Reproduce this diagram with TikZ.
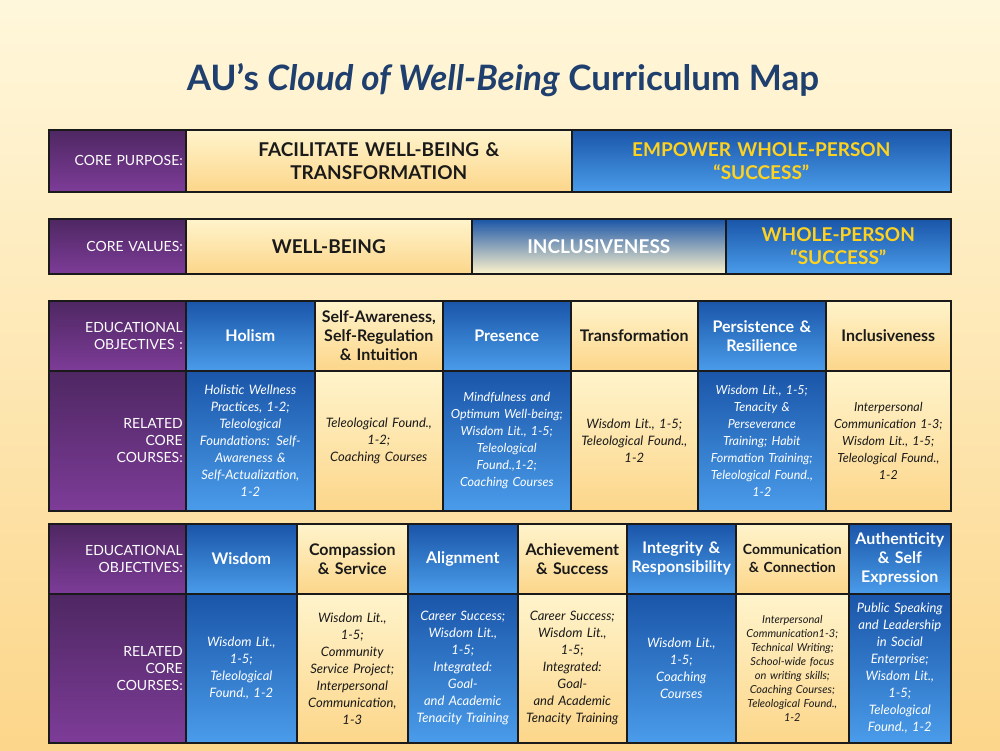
\documentclass[tikz,border=0pt]{standalone}
\usepackage{fontspec}
\setmainfont{Lato}
\usetikzlibrary{positioning}
\definecolor{ttl}{HTML}{1F3F6E}
\definecolor{bdark}{HTML}{1A55A8}
\definecolor{blight}{HTML}{4A9CEA}
\definecolor{cTop}{HTML}{FFF4CC}
\definecolor{cBot}{HTML}{FCD68A}
\definecolor{pTop}{HTML}{4E2762}
\definecolor{pBot}{HTML}{7D3C98}
\definecolor{gold}{HTML}{FFD21F}
\definecolor{dk}{HTML}{1A1A1A}
\tikzset{
 cellb/.style={draw=dk,line width=1.6pt,anchor=north west,inner sep=2pt,align=center},
 blue/.style={cellb,top color=bdark,bottom color=blight,text=white},
 cream/.style={cellb,top color=cTop,bottom color=cBot,text=dk},
 purp/.style={cellb,top color=pTop,bottom color=pBot,text=white,align=right,font=\fontsize{14}{17}\selectfont},
 hd/.style={font=\bfseries\fontsize{16}{19}\selectfont},
 bd/.style={font=\itshape\fontsize{13}{17}\selectfont},
}
\newcommand\cellat[7]{\node[#2,minimum width=#4pt-#3pt,minimum height=#6pt-#5pt,text width=#4pt-#3pt-6pt] (#1) at (#3pt,-#5pt) {#7};}
\begin{document}
\begin{tikzpicture}[x=1pt,y=1pt]
\useasboundingbox[top color=cTop!70!white,bottom color=cBot] (0,0) rectangle (1000,-750);
\node[font=\bfseries\fontsize{35}{40}\selectfont,text=ttl] (title) at (503,-80) {AU’s \textit{Cloud of Well-Being} Curriculum Map};
% table 1
\cellat{p1}{purp}{48}{185}{129}{191}{CORE PURPOSE:}
\cellat{a1}{cream,font=\bfseries\fontsize{19}{23}\selectfont}{185}{571}{129}{191}{FACILITATE WELL-BEING \&\\TRANSFORMATION}
\cellat{b1}{blue,text=gold,font=\bfseries\fontsize{19}{23}\selectfont}{571}{950}{129}{191}{EMPOWER WHOLE-PERSON\\“SUCCESS”}
% table 2
\cellat{p2}{purp}{48}{185}{218}{273}{CORE VALUES:}
\cellat{a2}{cream,font=\bfseries\fontsize{19}{23}\selectfont}{185}{471}{218}{273}{WELL-BEING}
\cellat{b2}{cellb,top color=bdark,bottom color=cTop,text=white,font=\bfseries\fontsize{19}{23}\selectfont}{471}{725}{218}{273}{INCLUSIVENESS}
\cellat{c2}{blue,text=gold,font=\bfseries\fontsize{19}{23}\selectfont}{725}{950}{218}{273}{WHOLE-PERSON\\“SUCCESS”}
% table 3
\cellat{p3}{purp}{48}{185}{300}{370}{EDUCATIONAL\\OBJECTIVES :}
\cellat{q3}{purp}{48}{185}{370}{510}{RELATED\\CORE\\COURSES:}
\cellat{h31}{blue,hd}{185}{314}{300}{370}{Holism}
\cellat{h32}{cream,hd}{314}{442}{300}{370}{Self-Awareness,\\Self-Regulation\\\& Intuition}
\cellat{h33}{blue,hd}{442}{570}{300}{370}{Presence}
\cellat{h34}{cream,hd}{570}{697}{300}{370}{Transformation}
\cellat{h35}{blue,hd}{697}{825}{300}{370}{Persistence \&\\Resilience}
\cellat{h36}{cream,hd}{825}{950}{300}{370}{Inclusiveness}
\cellat{r31}{blue,bd}{185}{314}{370}{510}{Holistic Wellness\\Practices, 1-2;\\Teleological\\Foundations: Self-\\Awareness \&\\Self-Actualization,\\1-2}
\cellat{r32}{cream,bd}{314}{442}{370}{510}{Teleological Found.,\\1-2;\\Coaching Courses}
\cellat{r33}{blue,bd,font=\itshape\fontsize{12.5}{17}\selectfont}{442}{570}{370}{510}{Mindfulness and\\Optimum Well-being;\\Wisdom Lit., 1-5;\\Teleological\\Found.,1-2;\\Coaching Courses}
\cellat{r34}{cream,bd}{570}{697}{370}{510}{Wisdom Lit., 1-5;\\Teleological Found.,\\1-2}
\cellat{r35}{blue,bd,font=\itshape\fontsize{12.5}{17}\selectfont}{697}{825}{370}{510}{Wisdom Lit., 1-5;\\Tenacity \&\\Perseverance\\Training; Habit\\Formation Training;\\Teleological Found.,\\1-2}
\cellat{r36}{cream,bd,font=\itshape\fontsize{12.5}{17}\selectfont}{825}{950}{370}{510}{Interpersonal\\Communication 1-3;\\Wisdom Lit., 1-5;\\Teleological Found.,\\1-2}
% table 4
\cellat{p4}{purp}{48}{185}{523}{593}{EDUCATIONAL\\OBJECTIVES:}
\cellat{q4}{purp}{48}{185}{593}{742}{RELATED\\CORE\\COURSES:}
\cellat{h41}{blue,hd}{185}{296}{523}{593}{Wisdom}
\cellat{h42}{cream,hd}{296}{407}{523}{593}{Compassion\\\& Service}
\cellat{h43}{blue,hd}{407}{517}{523}{593}{Alignment}
\cellat{h44}{cream,hd}{517}{626}{523}{593}{Achievement\\\& Success}
\cellat{h45}{blue,hd}{626}{735}{523}{593}{Integrity \&\\Responsibility}
\cellat{h46}{cream,font=\bfseries\fontsize{14}{18}\selectfont}{735}{848}{523}{593}{Communication\\\& Connection}
\cellat{h47}{blue,hd}{848}{950}{523}{593}{Authenticity\\\& Self\\Expression}
\cellat{r41}{blue,bd}{185}{296}{593}{742}{Wisdom Lit.,\\1-5;\\Teleological\\Found., 1-2}
\cellat{r42}{cream,bd}{296}{407}{593}{742}{Wisdom Lit.,\\1-5;\\Community\\Service Project;\\Interpersonal\\Communication,\\1-3}
\cellat{r43}{blue,bd}{407}{517}{593}{742}{Career Success;\\Wisdom Lit.,\\1-5;\\Integrated:\\Goal-\\and Academic\\Tenacity Training}
\cellat{r44}{cream,bd}{517}{626}{593}{742}{Career Success;\\Wisdom Lit.,\\1-5;\\Integrated:\\Goal-\\and Academic\\Tenacity Training}
\cellat{r45}{blue,bd}{626}{735}{593}{742}{Wisdom Lit.,\\1-5;\\Coaching\\Courses}
\cellat{r46}{cream,font=\itshape\fontsize{11}{14}\selectfont}{735}{848}{593}{742}{Interpersonal\\Communication1-3;\\Technical Writing;\\School-wide focus\\on writing skills;\\Coaching Courses;\\Teleological Found.,\\1-2}
\cellat{r47}{blue,bd}{848}{950}{593}{742}{Public Speaking\\and Leadership\\in Social\\Enterprise;\\Wisdom Lit.,\\1-5;\\Teleological\\Found., 1-2}
\end{tikzpicture}
\end{document}
